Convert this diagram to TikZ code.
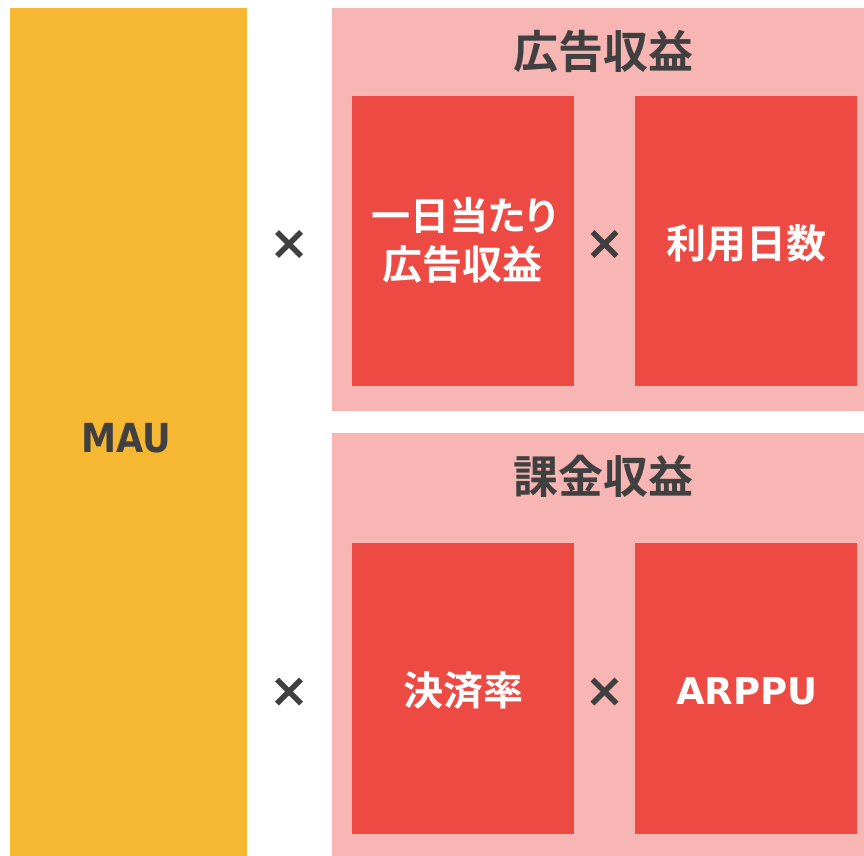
\documentclass[tikz,border=0pt]{standalone}
\usepackage{fontspec}
\setmainfont{DejaVu Sans}
\newfontfamily\jpfont{Noto Sans CJK JP}[BoldFont={* Bold}]
\newfontfamily\jppfont{Noto Sans CJK JP}[BoldFont={* Bold},RawFeature=+palt]
\newfontfamily\latfont{DejaVu Sans}
\definecolor{mauyellow}{HTML}{F6B733}
\definecolor{panelpink}{HTML}{F7B6B3}
\definecolor{boxred}{HTML}{EE4A44}
\definecolor{darktext}{HTML}{404040}
\begin{document}
\begin{tikzpicture}[x=1bp,y=-1bp,
  panel/.style={fill=panelpink,draw=none},
  redbox/.style={fill=boxred,draw=none},
  titletext/.style={text=darktext,font=\jpfont\bfseries\fontsize{45bp}{54bp}\selectfont,anchor=base,inner sep=0},
  boxtext/.style={text=white,font=\jpfont\bfseries\fontsize{40bp}{49bp}\selectfont,anchor=base,inner sep=0},
  lattext/.style={font=\latfont\bfseries\fontsize{37bp}{44bp}\selectfont,anchor=base,inner sep=0},
  timesmark/.style={draw=darktext,line width=5.5bp}]
\useasboundingbox (0,0) rectangle (864,856);
% MAU column
\fill[mauyellow] (10,8) rectangle (247,856);
\node[lattext,text=darktext,font=\latfont\bfseries\fontsize{40bp}{48bp}\selectfont,xscale=0.88,transform shape] (mau) at (126,452) {MAU};
% panels
\fill[panelpink] (332,8) rectangle (864,411);
\fill[panelpink] (332,433) rectangle (864,856);
\node[titletext] (ad) at (603,68) {広告収益};
\node[titletext] (pay) at (603,493) {課金収益};
% red boxes
\fill[boxred] (352,96) rectangle (574,386);
\fill[boxred] (635,96) rectangle (857,386);
\fill[boxred] (352,543) rectangle (574,834);
\fill[boxred] (635,543) rectangle (857,834);
\node[boxtext,font=\jppfont\bfseries\fontsize{39bp}{49bp}\selectfont] (daily1) at (464,230) {一日当たり};
\node[boxtext] (daily2) at (462,279) {広告収益};
\node[boxtext] (days) at (746,258) {利用日数};
\node[boxtext] (rate) at (463,705) {決済率};
\node[lattext,text=white] (arppu) at (747,704) {ARPPU};
% times marks
\foreach \cx/\cy/\nm in {289/244/ta,604.5/244/tb,289/691.5/tc,604.5/691.5/td}{
  \coordinate (\nm) at (\cx,\cy);
  \draw[timesmark] ([shift={(-12,-12)}]\nm) -- ([shift={(12,12)}]\nm);
  \draw[timesmark] ([shift={(-12,12)}]\nm) -- ([shift={(12,-12)}]\nm);
}
\end{tikzpicture}
\end{document}
